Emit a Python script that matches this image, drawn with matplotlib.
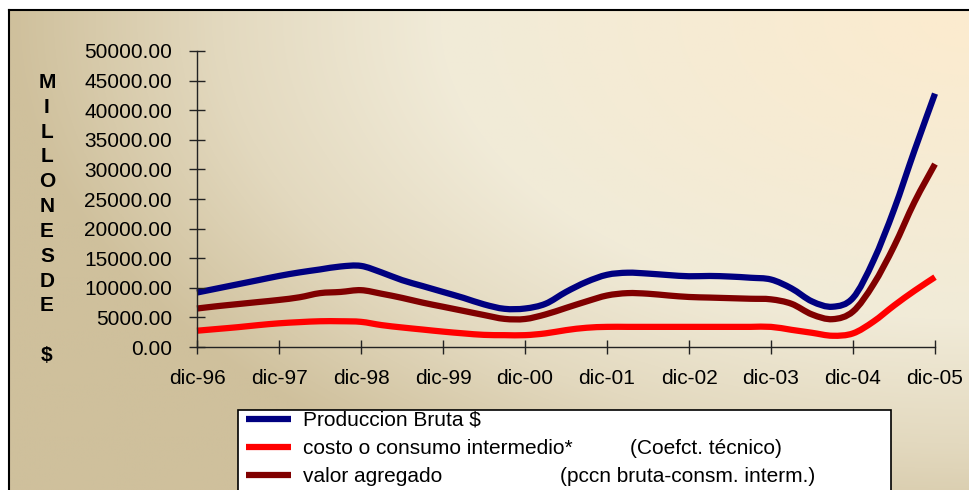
import numpy as np
import matplotlib
matplotlib.use('Agg')
import matplotlib.pyplot as plt
from matplotlib.colors import LinearSegmentedColormap
from matplotlib.patches import Rectangle, PathPatch
from matplotlib.path import Path

plt.rcParams['font.family'] = ['Liberation Sans', 'DejaVu Sans']

# ---- data (quarterly, dic-96 .. dic-05) ----
year_labels = ['dic-96', 'dic-97', 'dic-98', 'dic-99', 'dic-00',
               'dic-01', 'dic-02', 'dic-03', 'dic-04', 'dic-05']
produccion_bruta = [9200, 9900, 10600, 11300, 12000, 12600, 13100, 13600, 13700,
                    12600, 11300, 10300, 9300, 8300, 7200, 6450, 6500,
                    7300, 9300, 11000, 12200, 12550, 12400, 12150, 11950,
                    12000, 11900, 11700, 11400, 9900, 7700, 6800, 8300,
                    14600, 23200, 33200, 42800]
consumo_intermedio = [2750, 3050, 3350, 3700, 4000, 4200, 4350, 4350, 4250,
                      3700, 3300, 2950, 2600, 2300, 2050, 2000, 2000,
                      2300, 2850, 3250, 3400, 3400, 3400, 3400, 3400,
                      3400, 3400, 3400, 3400, 2900, 2400, 1900, 2300,
                      4300, 7000, 9500, 11800]
valor_agregado = [6500, 6900, 7250, 7600, 7950, 8400, 9100, 9300, 9600,
                  9000, 8300, 7500, 6800, 6100, 5400, 4750, 4730,
                  5500, 6600, 7700, 8700, 9100, 9000, 8700, 8450,
                  8350, 8250, 8150, 8050, 7300, 5500, 4700, 6000,
                  10600, 17000, 24500, 30900]
series_names = ['Produccion Bruta $', 'costo o consumo intermedio*', 'valor agregado']
series_notes = ['', '(Coefct. técnico)', '(pccn bruta-consm. interm.)']
series_colors = ['#000080', '#FF0000', '#800000']
y_ticks = list(range(0, 50001, 5000))

W, H = 969, 490
fig = plt.figure(figsize=(W / 100, H / 100), dpi=100)
fig.patch.set_facecolor('white')

# ---- background chart area with gradient ----
bg = fig.add_axes([0, 0, 1, 1], zorder=-10)
bg.set_xlim(0, W)
bg.set_ylim(H, 0)
bg.axis('off')
yy, xx = np.mgrid[0:H, 0:W]
t = np.sqrt((1.1 * (W - xx) / W) ** 2 + (0.95 * (yy - 10) / (H - 10)) ** 2)
t = np.clip(t / 1.1, 0, 1)
cmap = LinearSegmentedColormap.from_list(
    'bg', [(0, '#FCEBCF'), (0.55, '#F1EBD8'), (0.78, '#E3D9BF'), (1, '#CFC09C')])
img = cmap(t)
bg.imshow(img, extent=(9, W, H, 10), origin='upper', aspect='auto',
          interpolation='bilinear')
bg.plot([9, 9], [H, 10], color='black', lw=1.5)
bg.plot([9, W], [10, 10], color='black', lw=1.5)

# vertical y-label
bg.text(47, 219, "M\nI\nL\nL\nO\nN\nE\nS\nD\nE\n\n$", ha='center', va='center',
        fontsize=15, fontweight='bold', linespacing=1.39)

# ---- legend (manual box) ----
bg.add_patch(Rectangle((238, 410), 653, 100, facecolor='white',
                       edgecolor='black', lw=1.2, zorder=2))
rows = [419, 447, 475]
note_x = [0, 630, 560]
for name, note, c, ry, nx in zip(series_names, series_notes, series_colors, rows, note_x):
    bg.plot([246, 291], [ry, ry], color=c, lw=4.5, solid_capstyle='butt', zorder=3)
    bg.text(303, ry + 1, name, fontsize=15, va='center', ha='left', zorder=3)
    if note:
        bg.text(nx, ry + 1, note, fontsize=15, va='center', ha='left', zorder=3)

# ---- main axes ----
ax = fig.add_axes([197 / W, 1 - 347 / H, (935 - 197) / W, (347 - 51) / H])
ax.patch.set_alpha(0)


def smooth_path(xs, ys):
    p = np.column_stack([xs, ys]).astype(float)
    ext = np.vstack([p[0], p, p[-1]])
    verts = [p[0]]
    codes = [Path.MOVETO]
    for i in range(len(p) - 1):
        p0, p1, p2, p3 = ext[i], ext[i + 1], ext[i + 2], ext[i + 3]
        c1 = p1 + (p2 - p0) / 6.0
        c2 = p2 - (p3 - p1) / 6.0
        verts += [c1, c2, p2]
        codes += [Path.CURVE4] * 3
    return Path(verts, codes)


x = np.arange(len(produccion_bruta))
for vals, c in zip([produccion_bruta, consumo_intermedio, valor_agregado], series_colors):
    ax.add_patch(PathPatch(smooth_path(x, vals), facecolor='none', edgecolor=c,
                           lw=4.5, joinstyle='round', capstyle='butt', clip_on=False))
ax.set_xlim(0, len(produccion_bruta) - 1)
ax.set_ylim(0, 50000)
ax.set_yticks(y_ticks)
ax.set_yticklabels([f'{v:.2f}' for v in y_ticks])
ax.set_xticks(np.arange(0, len(produccion_bruta), 4))
ax.set_xticklabels(year_labels)
for s in ['top', 'right']:
    ax.spines[s].set_visible(False)
for s in ['left', 'bottom']:
    ax.spines[s].set_color('#222222')
    ax.spines[s].set_linewidth(1)
ax.tick_params(axis='y', direction='inout', length=12, width=1, pad=12,
               labelsize=15, color='#222222')
ax.tick_params(axis='x', direction='inout', length=10, width=1, pad=11,
               labelsize=15, color='#222222')

fig.savefig('out.png', dpi=100, facecolor='white')
